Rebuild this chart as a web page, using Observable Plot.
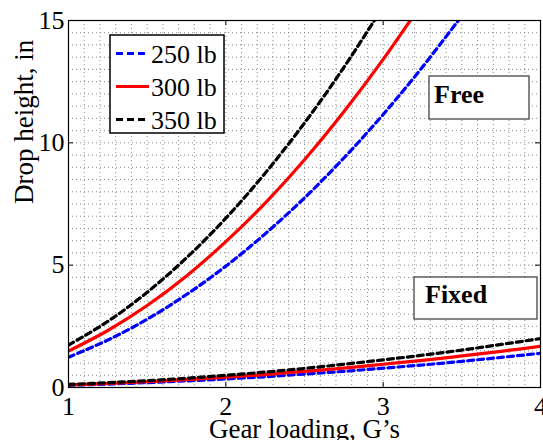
<!DOCTYPE html>
<html>
<head>
<meta charset="utf-8">
<script src="https://cdn.jsdelivr.net/npm/d3@7"></script>
<script src="https://cdn.jsdelivr.net/npm/@observablehq/plot@0.6"></script>
<style>
  html, body { margin: 0; padding: 0; background: white; }
  svg { display: block; }
</style>
</head>
<body>
<div id="chart"></div>
<script>
// Gear loading (G's) sample positions
const gLoad = [1, 1.25, 1.5, 1.75, 2, 2.25, 2.5, 2.75, 3, 3.25, 3.5, 3.75, 4];

// "Free" drop heights (in) (null = off the top of the chart)
const free250 = [1.24, 1.94, 2.79, 3.80, 4.96, 6.28, 7.75, 9.38, 11.16, 13.10, 15.19, null, null];
const free300 = [1.49, 2.33, 3.35, 4.56, 5.96, 7.54, 9.31, 11.27, 13.41, 15.74, null, null, null];
const free350 = [1.73, 2.70, 3.89, 5.30, 6.92, 8.76, 10.81, 13.08, 15.57, null, null, null, null];

// "Fixed" drop heights (in)
const fixed250 = [0.09, 0.14, 0.20, 0.27, 0.35, 0.44, 0.55, 0.66, 0.79, 0.92, 1.07, 1.23, 1.40];
const fixed300 = [0.105, 0.164, 0.236, 0.32, 0.42, 0.53, 0.66, 0.79, 0.95, 1.11, 1.29, 1.48, 1.68];
const fixed350 = [0.125, 0.195, 0.28, 0.38, 0.50, 0.63, 0.78, 0.95, 1.13, 1.32, 1.53, 1.76, 2.00];

// Axis ticks and labels
const xTickVals = [1, 2, 3, 4];
const yTickVals = [0, 5, 10, 15];
const xLabel = "Gear loading, G\u2019s";
const yLabel = "Drop height, in";
const legendLabels = ["250 lb", "300 lb", "350 lb"];
const boxLabels = ["Free", "Fixed"];

const seriesColors = ["#0000ff", "#ff0000", "#000000"];
const seriesDash = ["6,4", null, "6,4"];

const toRows = (ys) => gLoad.map((g, i) => ({g, h: ys[i]})).filter(d => d.h != null);
const freeSets = [free250, free300, free350];
const fixedSets = [fixed250, fixed300, fixed350];

const W = 543, H = 440;
const mTop = 20, mBottom = 53, mLeft = 68, mRight = 3;
const innerH = H - mTop - mBottom, innerW = W - mLeft - mRight;
const tickLen = 5;
const serif = "Liberation Serif, Times New Roman, serif";

const xGrid = d3.range(10, 41).map(v => v / 10);
const yGrid = d3.range(0, 31).map(v => v / 2);

const lineMarks = [];
[0, 1, 2].forEach(i => {
  [freeSets[i], fixedSets[i]].forEach(ys => {
    const opts = {x: "g", y: "h", stroke: seriesColors[i], strokeWidth: 3.2, curve: "catmull-rom", clip: true};
    if (seriesDash[i]) opts.strokeDasharray = seriesDash[i];
    lineMarks.push(Plot.line(toRows(ys), opts));
  });
});

const chart = Plot.plot({
  width: W, height: H,
  marginTop: mTop, marginBottom: mBottom, marginLeft: mLeft, marginRight: mRight,
  style: {fontFamily: serif, fontSize: "26px", background: "white", color: "black"},
  x: {domain: [1, 4], label: null},
  y: {domain: [0, 15], label: null},
  marks: [
    Plot.ruleX(xGrid, {x: d => d, stroke: "#888", strokeWidth: 1, strokeDasharray: "1,3"}),
    Plot.ruleY(yGrid, {y: d => d, stroke: "#888", strokeWidth: 1, strokeDasharray: "1,3"}),
    ...lineMarks,
    Plot.frame({stroke: "black", strokeWidth: 1.2}),
    Plot.tickX(xTickVals, {x: d => d, insetTop: innerH - tickLen, stroke: "black"}),
    Plot.tickX(xTickVals, {x: d => d, insetBottom: innerH - tickLen, stroke: "black"}),
    Plot.tickY(yTickVals, {y: d => d, insetRight: innerW - tickLen, stroke: "black"}),
    Plot.tickY(yTickVals, {y: d => d, insetLeft: innerW - tickLen, stroke: "black"}),
    Plot.axisX(xTickVals, {tickSize: 0, tickPadding: 9, fontSize: 26, label: null, tickFormat: d => String(d)}),
    Plot.axisY(yTickVals, {tickSize: 0, tickPadding: 4, fontSize: 26, label: null, tickFormat: d => String(d)}),
    Plot.text([xLabel], {text: d => d, frameAnchor: "bottom", dy: 42, fontSize: 27, lineAnchor: "middle"}),
    Plot.text([yLabel], {text: d => d, frameAnchor: "left", dx: -44, rotate: -90, fontSize: 27, lineAnchor: "middle"})
  ]
});

document.getElementById("chart").appendChild(chart);

// Legend and annotation boxes
const svg = d3.select(chart);
const leg = svg.append("g").attr("text-anchor", "start");
leg.append("rect").attr("x", 110).attr("y", 35).attr("width", 114).attr("height", 98)
  .attr("fill", "white").attr("stroke", "black").attr("stroke-width", 1.5);
legendLabels.forEach((lab, i) => {
  const cy = 53.5 + i * 33;
  const ln = leg.append("line").attr("x1", 116).attr("x2", 149).attr("y1", cy).attr("y2", cy)
    .attr("stroke", seriesColors[i]).attr("stroke-width", 3.2);
  if (seriesDash[i]) ln.attr("stroke-dasharray", "7,4");
  leg.append("text").attr("x", 151).attr("y", cy + 9.5).attr("font-size", 26)
    .attr("text-anchor", "start")
    .attr("font-family", serif).attr("fill", "black").text(lab);
});

const boxes = [
  {x: 429, y: 76, w: 100, h: 43, tx: 434, ty: 103},
  {x: 414, y: 277, w: 123, h: 42, tx: 425, ty: 303}
];
const ann = svg.append("g").attr("text-anchor", "start");
boxes.forEach((b, i) => {
  ann.append("rect").attr("x", b.x).attr("y", b.y).attr("width", b.w).attr("height", b.h)
    .attr("fill", "white").attr("stroke", "#444").attr("stroke-width", 1.3);
  ann.append("text").attr("x", b.tx).attr("y", b.ty).attr("font-size", 26).attr("font-weight", "bold")
    .attr("text-anchor", "start")
    .attr("font-family", serif).attr("fill", "black").text(boxLabels[i]);
});
</script>
</body>
</html>
